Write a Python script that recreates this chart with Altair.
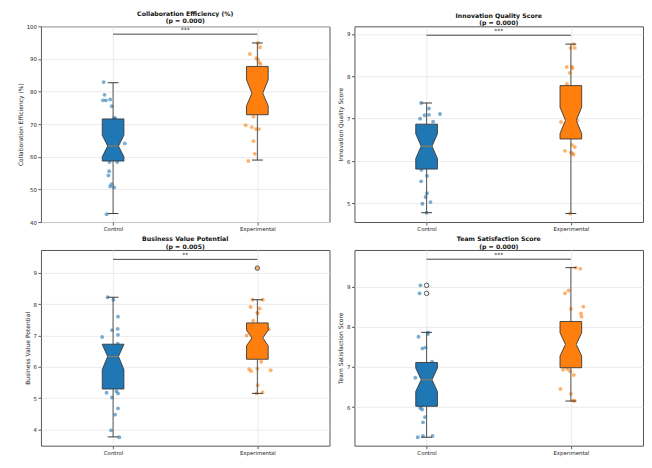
import altair as alt
import pandas as pd

FONT = "DejaVu Sans"
GROUPS = ["Control", "Experimental"]
GROUP_COLORS = ["#1f77b4", "#ff7f0e"]

PANEL_NAMES = ["Collaboration Efficiency (%)", "Innovation Quality Score",
               "Business Value Potential", "Team Satisfaction Score"]
P_LABELS = ["(p = 0.000)", "(p = 0.000)", "(p = 0.005)", "(p = 0.000)"]
STARS = ["***", "***", "**", "***"]
Y_DOMAINS = [[40, 100], [4.56, 9.18], [3.48, 9.73], [5.04, 9.91]]
Y_TICKS = [[40, 50, 60, 70, 80, 90, 100], [5, 6, 7, 8, 9], [4, 5, 6, 7, 8, 9], [6, 7, 8, 9]]
SIG_Y = [97.6, 8.97, 9.43, 9.68]

# per panel, per group: whisker low, Q1, notch low, median, notch high, Q3, whisker high
BOX_STATS = [
    [[42.6, 58.7, 60.0, 63.3, 66.6, 71.6, 82.7], [59.0, 72.9, 75.6, 79.5, 83.6, 87.7, 94.9]],
    [[4.78, 5.81, 6.06, 6.35, 6.64, 6.87, 7.37], [4.76, 6.52, 6.65, 6.96, 7.27, 7.78, 8.76]],
    [[3.76, 5.29, 5.91, 6.33, 6.71, 6.72, 8.22], [5.15, 6.24, 6.67, 6.92, 7.17, 7.40, 8.14]],
    [[5.25, 6.02, 6.39, 6.68, 6.97, 7.11, 7.86], [6.15, 6.98, 7.27, 7.56, 7.85, 8.13, 9.47]],
]

OUTLIERS = [[[], []], [[], []], [[], [9.15]], [[9.03, 8.83], []]]

# observed values and their horizontal jitter, per panel and group
POINT_VALUES = [
    [[82.9, 79.0, 77.3, 77.3, 77.6, 75.5, 71.8, 71.8, 64.1, 58.4, 58.4, 55.6, 54.3, 51.6, 50.9, 50.6, 42.4,
      69.5, 66.0, 62.0, 60.5],
     [94.9, 93.6, 91.5, 90.2, 89.9, 88.9, 88.5, 72.3, 69.7, 69.1, 68.5, 68.5, 64.8, 60.9, 58.7,
      86.0, 82.0, 78.0, 75.0]],
    [[7.37, 7.24, 7.00, 7.08, 7.09, 7.11, 6.93, 5.79, 5.65, 5.52, 5.24, 5.15, 4.99, 5.03, 4.78,
      6.7, 6.4, 6.2, 5.95],
     [8.76, 8.67, 8.67, 8.22, 8.23, 8.19, 8.08, 7.82, 6.92, 6.96, 6.38, 6.33, 6.24, 6.20, 6.18, 6.15, 4.76,
      7.6, 7.2, 6.8]],
    [[8.22, 8.14, 7.60, 7.17, 7.21, 7.02, 6.95, 6.74, 5.17, 5.22, 5.15, 5.02, 4.67, 4.47, 3.97, 3.75,
      6.5, 6.1, 5.8, 5.5],
     [9.15, 8.14, 8.14, 7.91, 7.86, 7.73, 7.70, 7.47, 7.00, 7.20, 6.16, 5.92, 5.86, 5.94, 5.89, 5.41, 5.18, 5.15,
      7.3, 6.9, 6.5]],
    [[9.03, 8.83, 7.86, 7.82, 7.75, 7.46, 7.48, 7.13, 6.73, 6.03, 5.94, 5.98, 5.75, 5.62, 5.25, 5.28, 5.28,
      6.9, 6.6, 6.3],
     [9.47, 9.44, 8.83, 8.90, 8.44, 8.50, 8.33, 8.25, 6.93, 6.99, 6.94, 6.89, 6.80, 6.45, 6.33, 6.16, 6.16,
      8.0, 7.7, 7.4, 7.1]],
]
POINT_JITTER = [
    [[-0.065, -0.059, -0.070, -0.049, -0.020, -0.009, 0.007, 0.014, 0.081, -0.025, 0.029, -0.027, -0.032,
      -0.011, -0.020, 0.007, -0.045, 0.03, -0.04, 0.02, -0.01],
     [0.004, 0.018, -0.052, -0.007, 0.004, 0.011, 0.022, -0.027, -0.081, -0.038, -0.009, 0.011, -0.027,
      -0.018, -0.063, 0.02, -0.03, 0.01, -0.02]],
    [[-0.038, 0.016, -0.045, -0.014, 0.016, 0.093, 0.045, -0.036, 0.003, -0.038, 0.003, -0.007, -0.029,
      0.027, 0.0, 0.02, -0.03, 0.01, -0.02],
     [0.020, -0.002, 0.027, -0.029, 0.007, 0.011, -0.007, -0.027, -0.068, 0.045, 0.007, 0.027, -0.041,
      0.0, 0.011, 0.018, -0.004, 0.02, -0.03, 0.01]],
    [[-0.038, 0.002, 0.034, -0.007, 0.032, 0.034, -0.076, 0.032, -0.045, 0.023, 0.034, -0.007, 0.034,
      0.014, -0.014, 0.043, 0.02, -0.03, 0.01, -0.02],
     [0.0, 0.038, -0.034, -0.047, 0.016, 0.0, 0.002, -0.029, -0.074, 0.079, 0.027, -0.057, -0.043, 0.0,
      0.092, 0.002, 0.036, -0.005, 0.02, -0.03, 0.01]],
    [[-0.043, -0.049, 0.009, 0.009, -0.056, -0.029, -0.007, 0.038, -0.078, -0.036, -0.031, -0.045,
      -0.011, -0.025, -0.061, -0.025, 0.041, 0.02, -0.03, 0.01],
     [0.034, 0.065, -0.041, -0.016, 0.0, 0.086, 0.070, 0.074, -0.054, -0.029, -0.020, -0.004, 0.020,
      -0.072, 0.0, 0.016, 0.025, 0.02, -0.03, 0.01, -0.02]],
]

BOX_WIDTH = 0.15
HALF = BOX_WIDTH / 2
NOTCH_HALF = BOX_WIDTH / 4
EDGE = "#3a3a3a"
WHISK = "#555555"

color_scale = alt.Scale(domain=GROUPS, range=GROUP_COLORS)


def panel(i):
    xs = alt.Scale(domain=[-0.5, 1.5], nice=False, zero=False)
    ys = alt.Scale(domain=Y_DOMAINS[i], nice=False, zero=False)
    xax = alt.Axis(values=[0, 1], title=None, grid=True,
                   labelExpr="datum.value == 0 ? 'Control' : 'Experimental'")
    yax = alt.Axis(values=Y_TICKS[i], title=PANEL_NAMES[i], grid=True, format="d")

    pts, box, whisk, caps, meds, outl = [], [], [], [], [], []
    for g, gname in enumerate(GROUPS):
        pos = float(g)
        for v, j in zip(POINT_VALUES[i][g], POINT_JITTER[i][g]):
            pts.append({"group": gname, "px": pos + j, "value": v})
        wl, q1, nl, md, nh, q3, wh = BOX_STATS[i][g]
        for yy, hw in [(q1, HALF), (nl, HALF), (md, NOTCH_HALF), (nh, HALF), (q3, HALF)]:
            box.append({"group": gname, "y": yy, "xl": pos - hw, "xr": pos + hw})
        whisk.append({"x": pos, "lo": wl, "hi": q1})
        whisk.append({"x": pos, "lo": q3, "hi": wh})
        caps.append({"c1": pos - NOTCH_HALF, "c2": pos + NOTCH_HALF, "w": wl})
        caps.append({"c1": pos - NOTCH_HALF, "c2": pos + NOTCH_HALF, "w": wh})
        meds.append({"c1": pos - NOTCH_HALF, "c2": pos + NOTCH_HALF, "m": md})
        for o in OUTLIERS[i][g]:
            outl.append({"x": pos, "v": o})

    points = alt.Chart(pd.DataFrame(pts)).mark_circle(size=15, opacity=0.6).encode(
        x=alt.X("px:Q", scale=xs, axis=xax),
        y=alt.Y("value:Q", scale=ys, axis=yax),
        color=alt.Color("group:N", scale=color_scale, legend=None),
    )
    whiskers = alt.Chart(pd.DataFrame(whisk)).mark_rule(color=WHISK, strokeWidth=1).encode(
        x=alt.X("x:Q", scale=xs, axis=xax),
        y=alt.Y("lo:Q", scale=ys, axis=yax),
        y2="hi:Q",
    )
    boxes = alt.Chart(pd.DataFrame(box)).mark_area(
        orient="horizontal", stroke=EDGE, strokeWidth=0.9, opacity=1
    ).encode(
        y=alt.Y("y:Q", scale=ys, axis=yax),
        x=alt.X("xl:Q", scale=xs, axis=xax),
        x2="xr:Q",
        fill=alt.Fill("group:N", scale=color_scale, legend=None),
        detail="group:N",
    )
    medians = alt.Chart(pd.DataFrame(meds)).mark_rule(color="#ff7f0e", opacity=0.6, strokeWidth=1).encode(
        x=alt.X("c1:Q", scale=xs, axis=xax),
        x2="c2:Q",
        y=alt.Y("m:Q", scale=ys, axis=yax),
    )
    capmarks = alt.Chart(pd.DataFrame(caps)).mark_rule(color=EDGE, strokeWidth=1).encode(
        x=alt.X("c1:Q", scale=xs, axis=xax),
        x2="c2:Q",
        y=alt.Y("w:Q", scale=ys, axis=yax),
    )
    layers = [points, whiskers, boxes, medians, capmarks]
    if outl:
        layers.append(
            alt.Chart(pd.DataFrame(outl)).mark_point(
                shape="circle", filled=False, stroke="#333333", size=20, strokeWidth=0.8, opacity=1
            ).encode(
                x=alt.X("x:Q", scale=xs, axis=xax),
                y=alt.Y("v:Q", scale=ys, axis=yax),
            )
        )
    sig_df = pd.DataFrame({"x0": [0.0], "x1": [1.0], "xm": [0.5], "y": [SIG_Y[i]], "t": [STARS[i]]})
    layers.append(
        alt.Chart(sig_df).mark_rule(color="#444444", strokeWidth=1).encode(
            x=alt.X("x0:Q", scale=xs, axis=xax), x2="x1:Q",
            y=alt.Y("y:Q", scale=ys, axis=yax),
        )
    )
    layers.append(
        alt.Chart(sig_df).mark_text(fontSize=6, font=FONT, baseline="bottom", dy=-1, color="#222222").encode(
            x=alt.X("xm:Q", scale=xs, axis=xax),
            y=alt.Y("y:Q", scale=ys, axis=yax),
            text="t:N",
        )
    )
    return alt.layer(*layers).properties(
        width=289, height=196,
        title=alt.TitleParams(text=[PANEL_NAMES[i], P_LABELS[i]], fontSize=6.2, fontWeight="bold",
                              font=FONT, anchor="middle", frame="group", offset=0,
                              lineHeight=7.3, color="#111111"),
    )


chart = alt.concat(panel(0), panel(1), panel(2), panel(3), columns=2,
                   spacing={"row": 3, "column": 6}).properties(
    padding={"left": 8, "top": 2, "right": 0, "bottom": 0},
    background="white",
).configure_view(
    stroke="#555555", strokeWidth=1
).configure_axis(
    domain=False, grid=True, gridColor="#e6e6e6", gridWidth=0.8,
    labelFont=FONT, labelFontSize=5.4, labelColor="#222222", labelPadding=1.5,
    tickColor="#333333", tickSize=3, tickWidth=0.8,
    titleFont=FONT, titleFontSize=6, titleFontWeight="normal", titleColor="#222222", titlePadding=3,
)

chart.save("out.html", embed_options={"renderer": "svg", "actions": False})
